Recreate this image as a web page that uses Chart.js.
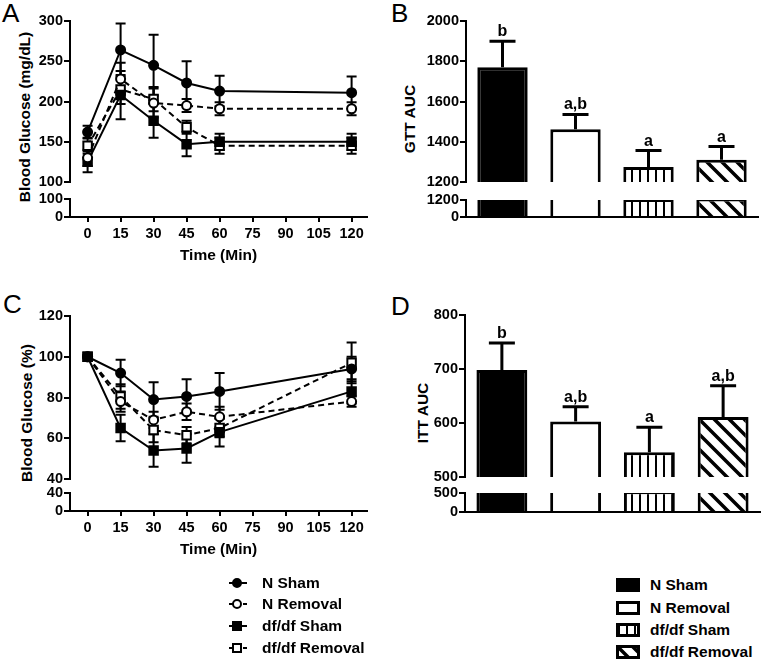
<!DOCTYPE html>
<html>
<head>
<meta charset="utf-8">
<title>GTT / ITT</title>
<script src="https://cdn.jsdelivr.net/npm/chart.js@4.4.1/dist/chart.umd.min.js"></script>
<style>
  body { margin: 0; background: #fff; }
  #fig { position: relative; width: 762px; height: 660px; overflow: hidden;
         font-family: "Liberation Sans", Arial, sans-serif; color: #000; }
  #fig canvas { position: absolute; }
  .panel { position: absolute; font-size: 26px; line-height: 1; }
  .ytitle { position: absolute; font-size: 15.5px; font-weight: bold; white-space: nowrap; line-height: 1;
            transform: translate(-50%, -50%) rotate(-90deg); }
  .leg { position: absolute; font-size: 15.5px; font-weight: bold; line-height: 1; white-space: nowrap; }
</style>
</head>
<body>
<div id="fig">
  <div class="panel" style="left:2px;top:0px">A</div>
  <div class="panel" style="left:391px;top:0px">B</div>
  <div class="panel" style="left:3px;top:291px">C</div>
  <div class="panel" style="left:391px;top:293px">D</div>
  <div class="ytitle" style="left:25px;top:117px">Blood Glucose (mg/dL)</div>
  <div class="ytitle" style="left:27px;top:413px">Blood Glucose (%)</div>
  <div class="ytitle" style="left:410px;top:119px">GTT AUC</div>
  <div class="ytitle" style="left:423px;top:413px">ITT AUC</div>
</div>
<script>
const times = [0, 15, 30, 45, 60, 120];
const timeTicks = [0, 15, 30, 45, 60, 75, 90, 105, 120];
const groups = ['N Sham', 'N Removal', 'df/df Sham', 'df/df Removal'];

// A: glucose tolerance, mg/dL (mean and SEM)
const gttNSham = [162, 264, 245, 223, 213, 211];
const gttNShamErr = [8, 33, 38, 27, 19, 20];
const gttNRemoval = [130, 228, 198, 195, 191, 191];
const gttNRemovalErr = [10, 20, 18, 8, 8, 8];
const gttDfSham = [125, 208, 176, 147, 150, 150];
const gttDfShamErr = [13, 30, 21, 15, 10, 10];
const gttDfRemoval = [145, 215, 203, 168, 145, 145];
const gttDfRemovalErr = [10, 18, 15, 8, 10, 10];

// C: insulin tolerance, % of baseline
const ittNSham = [100, 92, 79, 80.5, 83, 94];
const ittNShamErr = [0, 6.5, 8.5, 8.5, 9, 6];
const ittNRemoval = [100, 78, 69, 73, 70.5, 78];
const ittNRemovalErr = [0, 5, 4, 4, 5, 2.5];
const ittDfSham = [100, 65, 54, 55, 63, 83];
const ittDfShamErr = [0, 6.5, 8, 7, 7, 6];
const ittDfRemoval = [100, 80.5, 64, 61.5, 65, 97];
const ittDfRemovalErr = [0, 6, 6, 4, 4.5, 10];

// B, D: area under the curve
const gttAuc = [1770, 1462, 1274, 1310];
const gttAucErr = [130, 74, 82, 66];
const gttAucSig = ['b', 'a,b', 'a', 'a'];
const ittAuc = [698, 603, 546, 611];
const ittAucErr = [50, 27, 46, 58];
const ittAucSig = ['b', 'a,b', 'a', 'a,b'];

// broken y axes: upper / lower segment ticks
const gttTicks = [100, 150, 200, 250, 300];
const gttTicksLow = [0, 100];
const ittTicks = [40, 60, 80, 100, 120];
const ittTicksLow = [0, 40];
const gttAucTicks = [1200, 1400, 1600, 1800, 2000];
const gttAucTicksLow = [0, 1200];
const ittAucTicks = [500, 600, 700, 800];
const ittAucTicksLow = [0, 500];

const fig = document.getElementById('fig');
const FONT = '"Liberation Sans", Arial, sans-serif';
Chart.defaults.font.family = FONT;
Chart.defaults.font.size = 14;
Chart.defaults.font.weight = 'bold';
Chart.defaults.color = '#000';
Chart.defaults.animation = false;

const lineLook = [
  { dash: [], shape: 'circle', fill: '#000', r: 4.5 },
  { dash: [6, 4], shape: 'circle', fill: '#fff', r: 4.5 },
  { dash: [], shape: 'rect', fill: '#000', r: 6 },
  { dash: [6, 4], shape: 'rect', fill: '#fff', r: 6 }
];

function makePattern(kind) {
  const c = document.createElement('canvas');
  const s = kind === 'v' ? 8 : 15;
  c.width = s; c.height = s;
  const g = c.getContext('2d');
  g.fillStyle = '#fff';
  g.fillRect(0, 0, s, s);
  g.fillStyle = '#000';
  g.strokeStyle = '#000';
  if (kind === 'v') {
    g.fillRect(3, 0, 2, s);
  } else {
    g.lineWidth = 3.5;
    g.beginPath();
    for (const k of [-1, 0, 1]) {
      g.moveTo(k * s - 2, -2);
      g.lineTo(k * s + s + 2, s + 2);
    }
    g.stroke();
  }
  return g.createPattern(c, 'repeat');
}
const barFills = ['#000', '#fff', makePattern('v'), makePattern('d')];

function addCanvas(left, top, w, h) {
  const c = document.createElement('canvas');
  c.width = w; c.height = h;
  c.style.left = left + 'px';
  c.style.top = top + 'px';
  fig.appendChild(c);
  return c;
}

function drawErrors(chart, opts) {
  const ctx = chart.ctx;
  const half = opts.cap / 2;
  ctx.save();
  ctx.setLineDash([]);
  ctx.strokeStyle = '#000';
  ctx.fillStyle = '#000';
  ctx.lineWidth = opts.width;
  ctx.font = 'bold 16px ' + FONT;
  ctx.textAlign = 'center';
  chart.data.datasets.forEach((ds, i) => {
    const meta = chart.getDatasetMeta(i);
    const yS = chart.scales[meta.yAxisID];
    meta.data.forEach((el, j) => {
      const v = meta.controller.getParsed(j).y;
      const e = ds.errors[j];
      if (!e) return;
      const top = yS.getPixelForValue(v + e);
      const bottom = opts.both ? yS.getPixelForValue(v - e) : el.y;
      ctx.beginPath();
      ctx.moveTo(el.x, top); ctx.lineTo(el.x, bottom);
      ctx.moveTo(el.x - half, top); ctx.lineTo(el.x + half, top);
      if (opts.both) {
        ctx.moveTo(el.x - half, bottom); ctx.lineTo(el.x + half, bottom);
      }
      ctx.stroke();
      if (ds.sig) ctx.fillText(ds.sig[j], el.x, top - 5);
    });
  });
  ctx.restore();
}

const errorBars = {
  id: 'errorBars',
  beforeDatasetsDraw(chart, args, opts) { if (opts.both) drawErrors(chart, opts); },
  afterDatasetsDraw(chart, args, opts) { if (!opts.both) drawErrors(chart, opts); }
};

function yScale(min, max, ticks, width) {
  return {
    type: 'linear', min: min, max: max,
    afterBuildTicks: s => { s.ticks = ticks.map(v => ({ value: v })); },
    afterFit: s => { s.width = width; },
    border: { display: true, color: '#000', width: 2 },
    grid: { display: true, drawOnChartArea: false, drawTicks: true, tickLength: 6,
            tickWidth: 2, tickColor: '#000', color: '#000', lineWidth: 2 },
    ticks: { autoSkip: false, padding: 1, callback: v => String(v), font: { size: 14.5, weight: 'bold' } }
  };
}

const baseOpts = {
  responsive: false, devicePixelRatio: 1, events: [],
  plugins: { legend: { display: false }, tooltip: { enabled: false } }
};

function lineUpper(canvas, series, errs, yMin, yMax, ticks, padTop, padBottom) {
  return new Chart(canvas, {
    type: 'line',
    data: {
      datasets: series.map((vals, i) => ({
        label: groups[i],
        data: times.map((t, j) => ({ x: t, y: vals[j] })),
        errors: errs[i],
        borderColor: '#000', borderWidth: 2, borderDash: lineLook[i].dash,
        pointStyle: lineLook[i].shape, pointRadius: lineLook[i].r,
        pointBackgroundColor: lineLook[i].fill, pointBorderColor: '#000', pointBorderWidth: 2,
        tension: 0, clip: false
      }))
    },
    options: Object.assign({}, baseOpts, {
      layout: { padding: { left: 0, top: padTop, right: 13, bottom: padBottom } },
      scales: {
        x: { type: 'linear', min: -8, max: 127, display: false },
        y: yScale(yMin, yMax, ticks, 70)
      },
      plugins: Object.assign({}, baseOpts.plugins, { errorBars: { both: true, cap: 10, width: 2 } })
    }),
    plugins: [errorBars]
  });
}

function lineLower(canvas, yMax, ticks) {
  return new Chart(canvas, {
    type: 'line',
    data: { datasets: [] },
    options: Object.assign({}, baseOpts, {
      layout: { padding: { left: 0, top: 14, right: 13, bottom: 0 } },
      scales: {
        x: {
          type: 'linear', min: -8, max: 127,
          afterBuildTicks: s => { s.ticks = timeTicks.map(v => ({ value: v })); },
          afterFit: s => { s.height = 52; },
          border: { display: true, color: '#000', width: 2 },
          grid: { display: true, drawOnChartArea: false, tickLength: 5, tickWidth: 2,
                  tickColor: '#000', color: '#000', lineWidth: 2 },
          ticks: { autoSkip: false, maxRotation: 0, padding: 3, callback: v => String(v),
                   font: { size: 14.5, weight: 'bold' } },
          title: { display: true, text: 'Time (Min)', font: { size: 15.5, weight: 'bold' },
                   padding: { top: 0, bottom: 4 } }
        },
        y: yScale(0, yMax, ticks, 70)
      }
    })
  });
}

function barChart(canvas, vals, errs, sig, yMin, yMax, ticks, yWidth, pad, isLower) {
  return new Chart(canvas, {
    type: 'bar',
    data: {
      labels: groups,
      datasets: [{
        label: 'AUC', data: vals, errors: errs, sig: sig,
        backgroundColor: barFills, borderColor: '#000', borderWidth: 3,
        borderSkipped: 'start', barPercentage: 0.69, categoryPercentage: 1, clip: 0
      }]
    },
    options: Object.assign({}, baseOpts, {
      layout: { padding: pad },
      scales: {
        x: isLower
          ? { type: 'category', afterFit: s => { s.height = 0; },
              border: { display: true, color: '#000', width: 2 },
              grid: { display: false }, ticks: { display: false } }
          : { type: 'category', display: false },
        y: yScale(yMin, yMax, ticks, yWidth)
      },
      plugins: Object.assign({}, baseOpts.plugins, { errorBars: { both: false, cap: 26, width: 3 } })
    }),
    plugins: isLower ? [] : [errorBars]
  });
}

// A
lineUpper(addCanvas(0, 0, 380, 194),
  [gttNSham, gttNRemoval, gttDfSham, gttDfRemoval],
  [gttNShamErr, gttNRemovalErr, gttDfShamErr, gttDfRemovalErr],
  100, 300, gttTicks, 21, 12);
lineLower(addCanvas(0, 185, 380, 84), 100, gttTicksLow);

// C
lineUpper(addCanvas(0, 295, 380, 194),
  [ittNSham, ittNRemoval, ittDfSham, ittDfRemoval],
  [ittNShamErr, ittNRemovalErr, ittDfShamErr, ittDfRemovalErr],
  40, 120, ittTicks, 21, 10);
lineLower(addCanvas(0, 479, 380, 84), 40, ittTicksLow);

// B
barChart(addCanvas(380, 0, 382, 194), gttAuc, gttAucErr, gttAucSig, 1200, 2000, gttAucTicks, 86,
  { left: 0, top: 21, right: 4, bottom: 12 }, false);
barChart(addCanvas(380, 185, 382, 44), gttAuc, gttAucErr, gttAucSig, 0, 1200, gttAucTicksLow, 86,
  { left: 0, top: 15, right: 4, bottom: 12 }, true);

// D
barChart(addCanvas(380, 295, 382, 194), ittAuc, ittAucErr, ittAucSig, 500, 800, ittAucTicks, 85,
  { left: 0, top: 20, right: 2, bottom: 12 }, false);
barChart(addCanvas(380, 478, 382, 46), ittAuc, ittAucErr, ittAucSig, 0, 500, ittAucTicksLow, 85,
  { left: 0, top: 15, right: 2, bottom: 12 }, true);

// legends
const lineRows = [583, 604, 626, 648];
const barRows = [585, 607.5, 629.5, 651.5];
groups.forEach((g, i) => {
  const look = lineLook[i];
  const c = addCanvas(226, lineRows[i] - 7, 24, 14);
  const ctx = c.getContext('2d');
  ctx.strokeStyle = '#000';
  ctx.lineWidth = 2;
  ctx.setLineDash(look.dash.length ? [4, 3] : []);
  ctx.beginPath(); ctx.moveTo(3, 7); ctx.lineTo(21, 7); ctx.stroke();
  ctx.setLineDash([]);
  ctx.fillStyle = look.fill;
  ctx.beginPath();
  if (look.shape === 'circle') ctx.arc(11, 7, 4, 0, Math.PI * 2);
  else ctx.rect(7, 3, 8, 8);
  ctx.fill(); ctx.stroke();
  const t = document.createElement('div');
  t.className = 'leg';
  t.style.left = '262px';
  t.style.top = (lineRows[i] - 8) + 'px';
  t.textContent = g;
  fig.appendChild(t);

  const b = addCanvas(615, barRows[i] - 8, 26, 16);
  const bx = b.getContext('2d');
  bx.fillStyle = barFills[i];
  bx.fillRect(2, 2, 22, 12);
  bx.strokeStyle = '#000';
  bx.lineWidth = 3;
  bx.strokeRect(2.5, 2.5, 21, 11);
  const bt = document.createElement('div');
  bt.className = 'leg';
  bt.style.left = '650px';
  bt.style.top = (barRows[i] - 8) + 'px';
  bt.textContent = g;
  fig.appendChild(bt);
});
</script>
</body>
</html>
